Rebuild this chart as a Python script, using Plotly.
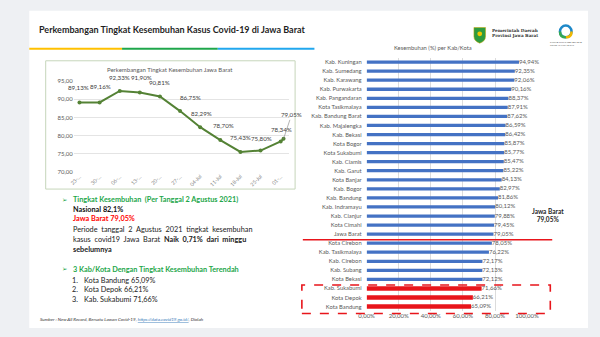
import plotly.graph_objects as go

W, H = 600, 337
def px(x): return x / W
def py(y): return 1 - y / H

# ---------------- data ----------------
line_dates = ["2021-05-23", "2021-05-30", "2021-06-06", "2021-06-13", "2021-06-20", "2021-06-27",
              "2021-07-04", "2021-07-11", "2021-07-18", "2021-07-25", "2021-08-01", "2021-08-02"]
line_values = [89.13, 89.16, 92.33, 91.90, 90.81, 86.75, 82.29, 78.70, 75.43, 75.80, 78.34, 79.05]
line_tick_dates = line_dates[:11]
line_tick_labels = ["23-…", "30-…", "06-…", "13-…", "20-…", "27-…", "04-Jul", "11-Jul", "18-Jul", "25-Jul", "01-…"]
line_y_ticks = [70, 75, 80, 85, 90, 95]

kab_names = ["Kab. Kuningan", "Kab. Sumedang", "Kab. Karawang", "Kab. Purwakarta", "Kab. Pangandaran",
             "Kota Tasikmalaya", "Kab. Bandung Barat", "Kab. Majalengka", "Kab. Bekasi", "Kota Bogor",
             "Kota Sukabumi", "Kab. Ciamis", "Kab. Garut", "Kota Banjar", "Kab. Bogor", "Kab. Bandung",
             "Kab. Indramayu", "Kab. Cianjur", "Kota Cimahi", "Jawa Barat", "Kota Cirebon",
             "Kab. Tasikmalaya", "Kab. Cirebon", "Kab. Subang", "Kota Bekasi", "Kab. Sukabumi",
             "Kota Depok", "Kota Bandung"]
kab_values = [94.94, 92.35, 92.06, 90.16, 88.37, 87.91, 87.62, 86.59, 86.42, 85.87, 85.77, 85.47,
              85.22, 84.13, 82.97, 81.86, 80.12, 79.88, 79.45, 79.05, 78.05, 76.22, 72.17, 72.13,
              72.12, 71.66, 66.21, 65.09]
lowest3 = ["Kab. Sukabumi", "Kota Depok", "Kota Bandung"]
bar_x_ticks = [0, 20, 40, 60, 80, 100]
bar_x_labels = ["0,00%", "20,00%", "40,00%", "60,00%", "80,00%", "100,00%"]

def pct(v):
    return f"{v:.2f}%".replace(".", ",")

FONT = "Lato"
GREEN = "#1DA64A"
BLUE = "#4472C4"
RED = "#E8151B"
GRAY = "#595959"

fig = go.Figure()

# line chart
fig.add_trace(go.Scatter(
    x=line_dates, y=line_values, mode="lines+markers",
    line=dict(color="#548235", width=2), marker=dict(size=4, color="#548235"),
    xaxis="x", yaxis="y", hoverinfo="skip", showlegend=False))

# bar chart
bar_colors = [RED if n in lowest3 else BLUE for n in kab_names]
bar_widths = [0.5 if n in lowest3 else 0.36 for n in kab_names]
fig.add_trace(go.Bar(
    x=kab_values, y=kab_names, orientation="h", marker=dict(color=bar_colors, line=dict(width=0)),
    width=bar_widths, xaxis="x2", yaxis="y2", hoverinfo="skip", showlegend=False))
fig.add_trace(go.Scatter(
    x=kab_values, y=kab_names, mode="text", text=[pct(v) for v in kab_values],
    textposition="middle right", cliponaxis=False,
    textfont=dict(family=FONT, size=6, color=GRAY),
    xaxis="x2", yaxis="y2", hoverinfo="skip", showlegend=False))

# line-chart point labels (offsets in px)
label_shift = [(-1, 10), (1, 10), (0, 8), (2, 10), (0, 8), (10, 8), (1, 8), (3, 9), (0, 9), (1, 7), (1, 6)]
annotations = []
for i, (dx, dy) in enumerate(label_shift):
    annotations.append(dict(x=line_dates[i], y=line_values[i], xref="x", yref="y", text=pct(line_values[i]),
                            showarrow=False, xshift=dx, yshift=dy, yanchor="bottom",
                            font=dict(family=FONT, size=6.2, color="#404040")))
annotations.append(dict(x=line_dates[11], y=line_values[11], xref="x", yref="y", text=pct(line_values[11]),
                        showarrow=True, arrowhead=0, arrowwidth=0.6, arrowcolor="#7f7f7f",
                        ax=8, ay=-24, font=dict(family=FONT, size=6.2, color="#404040")))

def txt(x, y, text, size=7.5, color="#1a1a1a", xanchor="left", family=FONT):
    annotations.append(dict(x=px(x), y=py(y), xref="paper", yref="paper", text=text, showarrow=False,
                            xanchor=xanchor, yanchor="middle", align="left",
                            font=dict(family=family, size=size, color=color)))

txt(30, 26, "<b>Perkembangan Tingkat Kesembuhan Kasus Covid-19 di Jawa Barat</b>", size=9, color="#1f1f1f")
txt(168, 67, "Perkembangan Tingkat Kesembuhan Jawa Barat", size=6, color=GRAY, xanchor="center")
txt(440, 44, "Kesembuhan (%) per Kab/Kota", size=5.8, color=GRAY, xanchor="center")
annotations.append(dict(x=px(577), y=py(227), xref="paper", yref="paper",
                        text="<b>Jawa Barat<br>79,05%</b>", showarrow=False, align="center",
                        font=dict(family=FONT, size=6.5, color="#262626")))

# logos text
txt(499, 30, "<b>Pemerintah Daerah<br>Provinsi Jawa Barat</b>", size=4.2, color="#333333", family="DejaVu Serif")
txt(577, 40, "SATUAN TUGAS PENANGANAN<br>COVID-19 JAWA BARAT", size=2.2, color="#555555", xanchor="center")

# left text block
txt(54, 200, "➢", size=6.5, color=GREEN, family="DejaVu Sans")
txt(65, 200, "<b>Tingkat Kesembuhan  (Per Tanggal 2 Agustus 2021)</b>", size=7.3, color=GREEN)
txt(65, 210, "<b>Nasional 82,1%</b>", size=7.3, color="#111111")
txt(65, 219, "<b>Jawa Barat 79,05%</b>", size=7.3, color="#FF0000")
txt(65, 230, "Periode  tanggal  2  Agustus  2021  tingkat  kesembuhan", size=7.3, color="#222222")
txt(65, 241, "kasus  covid19  Jawa  Barat  <b>Naik  0,71%  dari  minggu</b>", size=7.3, color="#222222")
txt(65, 251, "<b>sebelumnya</b>", size=7.3, color="#222222")
txt(54, 271, "➢", size=6.5, color=GREEN, family="DejaVu Sans")
txt(65, 271, "<b>3 Kab/Kota Dengan Tingkat Kesembuhan Terendah</b>", size=7.3, color=GREEN)
for k, n in enumerate(lowest3[::-1]):
    v = kab_values[kab_names.index(n)]
    txt(64, 282 + 10 * k, f"{k + 1}.", size=7.3, color="#222222")
    txt(77, 282 + 10 * k, f"{n} {pct(v)}", size=7.3, color="#222222")
txt(31, 322, "<i>Sumber : New All Record, Bersatu Lawan Covid-19, "
             "<span style='color:#2E75B6'><u>https://data.covid19.go.id/</u></span>, Diolah</i>",
    size=4.6, color="#333333")

# ---------------- shapes ----------------
def rect(x0, y0, x1, y1, **kw):
    return dict(type="rect", xref="paper", yref="paper", x0=px(x0), y0=py(y1), x1=px(x1), y1=py(y0), **kw)

shapes = [
    rect(22, 7, 600, 331, fillcolor="white", line=dict(width=0), layer="below"),
    rect(22, 44.6, 118, 46.8, fillcolor="#FFC000", line=dict(width=0), layer="below"),
    rect(118, 44.6, 217, 46.8, fillcolor="#1FA64B", line=dict(width=0), layer="below"),
    rect(217, 44.6, 317, 46.8, fillcolor="#21A7EE", line=dict(width=0), layer="below"),
    rect(39, 58, 297, 189, fillcolor="rgba(0,0,0,0)", line=dict(width=1, color="#c6d6bb"), layer="below"),
    rect(304, 287, 561, 316, fillcolor="rgba(0,0,0,0)", line=dict(width=1.6, color=RED, dash="dash"), layer="above"),
    dict(type="line", xref="paper", yref="paper", x0=px(305), x1=px(563), y0=py(240.7), y1=py(240.7),
         line=dict(width=1.6, color=RED), layer="above"),
    # logo 1: shield
    dict(type="path", xref="paper", yref="paper", layer="above",
         path=f"M {px(482)},{py(24)} L {px(494)},{py(24)} L {px(494)},{py(33)} Q {px(494)},{py(38)} {px(488)},{py(40)} "
              f"Q {px(482)},{py(38)} {px(482)},{py(33)} Z",
         fillcolor="#2E9B3E", line=dict(width=0.5, color="#C9A400")),
    dict(type="circle", xref="paper", yref="paper", layer="above",
         x0=px(485.5), x1=px(490.5), y0=py(33), y1=py(28), fillcolor="#F2C500", line=dict(width=0)),
    # logo 2: ring
    dict(type="circle", xref="paper", yref="paper", layer="above",
         x0=px(571), x1=px(583), y0=py(34), y1=py(22), fillcolor="rgba(0,0,0,0)",
         line=dict(width=2.5, color="#1E88C8")),
    dict(type="path", xref="paper", yref="paper", layer="above",
         path=f"M {px(577)},{py(34)} Q {px(583)},{py(34)} {px(583)},{py(28)}",
         fillcolor="rgba(0,0,0,0)", line=dict(width=2.5, color="#F2B800")),
    dict(type="path", xref="paper", yref="paper", layer="above",
         path=f"M {px(571)},{py(28)} Q {px(571)},{py(34)} {px(577)},{py(34)}",
         fillcolor="rgba(0,0,0,0)", line=dict(width=2.5, color="#34A853")),
]

fig.update_layout(
    width=W, height=H, margin=dict(l=0, r=0, t=0, b=0),
    paper_bgcolor="#EEF0F3", plot_bgcolor="rgba(0,0,0,0)",
    separators=",.", showlegend=False, bargap=0.6,
    font=dict(family=FONT, color=GRAY),
    xaxis=dict(domain=[px(68), px(291)], type="date", range=["2021-05-21", "2021-08-04"],
               tickvals=line_tick_dates, ticktext=line_tick_labels, tickangle=-45,
               tickfont=dict(size=5.2, color="#7f7f7f"), showgrid=False, zeroline=False,
               showline=False, ticks=""),
    yaxis=dict(domain=[py(171), py(79)], range=[70, 95], tickvals=line_y_ticks,
               tickformat=".2f", ticksuffix="%", tickfont=dict(size=6, color=GRAY),
               gridcolor="#e4e4e4", gridwidth=0.8, zeroline=False, showline=False, ticks=""),
    xaxis2=dict(domain=[px(371), px(537)], range=[0, 100], tickvals=bar_x_ticks, ticktext=bar_x_labels,
                tickfont=dict(size=6, color=GRAY), gridcolor="#dcdcdc", gridwidth=0.8,
                zeroline=False, showline=False, anchor="y2", ticks=""),
    yaxis2=dict(domain=[py(313.6), py(54.7)], range=[len(kab_names) - 0.5, -0.5], type="category",
                tickfont=dict(size=5.8, color=GRAY), anchor="x2", showgrid=False, ticks="",
                ticklabelstandoff=4),
    annotations=annotations, shapes=shapes,
)

fig.write_html("out.html")
